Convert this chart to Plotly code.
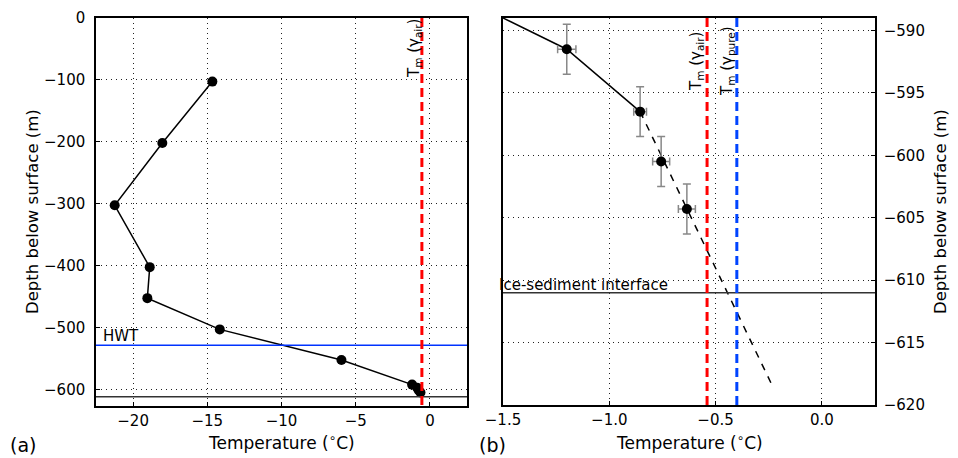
import plotly.graph_objects as go

# ---------------- data ----------------
# Panel (a): temperature profile (elevation = -depth, m)
temp_a = [-14.66, -18.03, -21.24, -18.88, -19.04, -14.16, -5.96, -1.20, -0.855, -0.756, -0.635]
elev_a = [-102.6, -201.8, -302.2, -402.0, -452.0, -502.4, -551.8, -591.5, -596.5, -600.5, -604.3]

# Panel (b): deep measurements with uncertainties
temp_b = [-5.96, -1.20, -0.855, -0.756, -0.635]
elev_b = [-551.8, -591.5, -596.5, -600.5, -604.3]
temp_err_b = [0.0, 0.043, 0.03, 0.04, 0.04]
elev_err_b = [0.0, 2.0, 2.0, 2.0, 2.0]

# Linear extrapolation (dashed) endpoints
fit_temp = [-0.855, -0.229]
fit_elev = [-596.5, -618.6]

# Reference levels / melting points
tm_air = -0.54
tm_pure = -0.40
hwt_elev = -528.0
interface_elev = -611.0

xticks_a = [-20, -15, -10, -5, 0]
yticks_a = [0, -100, -200, -300, -400, -500, -600]
xticks_b = [-1.5, -1.0, -0.5, 0.0]
yticks_b = [-590, -595, -600, -605, -610, -615, -620]

FONT = "DejaVu Sans"
W, H = 958, 458
TM_DASH = "9px,5px"

fig = go.Figure()

# ---------- panel (a) ----------
fig.add_trace(go.Scatter(x=temp_a, y=elev_a, mode="lines+markers",
                         line=dict(color="black", width=1.5),
                         marker=dict(color="black", size=10),
                         xaxis="x", yaxis="y", showlegend=False))
fig.add_trace(go.Scatter(x=[-22.5, 2.5], y=[hwt_elev, hwt_elev], mode="lines",
                         line=dict(color="#0033ff", width=1.5),
                         xaxis="x", yaxis="y", showlegend=False))
fig.add_trace(go.Scatter(x=[-22.5, 2.5], y=[interface_elev, interface_elev], mode="lines",
                         line=dict(color="#333333", width=1.5),
                         xaxis="x", yaxis="y", showlegend=False))
fig.add_trace(go.Scatter(x=[tm_air, tm_air], y=[0, -626], mode="lines",
                         line=dict(color="#ff0000", width=3, dash=TM_DASH),
                         xaxis="x", yaxis="y", showlegend=False))

# ---------- panel (b) ----------
fig.add_trace(go.Scatter(x=fit_temp, y=fit_elev, mode="lines",
                         line=dict(color="black", width=1.5, dash="7px,7px"),
                         xaxis="x2", yaxis="y2", showlegend=False))
fig.add_trace(go.Scatter(x=temp_b[:3], y=elev_b[:3], mode="lines",
                         line=dict(color="black", width=1.5),
                         xaxis="x2", yaxis="y2", showlegend=False))
fig.add_trace(go.Scatter(x=temp_b[1:], y=elev_b[1:], mode="markers",
                         marker=dict(color="black", size=10),
                         error_x=dict(type="data", array=temp_err_b[1:], color="#888888",
                                      thickness=1.5, width=4),
                         error_y=dict(type="data", array=elev_err_b[1:], color="#888888",
                                      thickness=1.5, width=4),
                         xaxis="x2", yaxis="y2", showlegend=False))
fig.add_trace(go.Scatter(x=[-1.5, 0.25], y=[interface_elev, interface_elev], mode="lines",
                         line=dict(color="#333333", width=1.5),
                         xaxis="x2", yaxis="y2", showlegend=False))
fig.add_trace(go.Scatter(x=[tm_air, tm_air], y=[-589, -620], mode="lines",
                         line=dict(color="#ff0000", width=3, dash=TM_DASH),
                         xaxis="x2", yaxis="y2", showlegend=False))
fig.add_trace(go.Scatter(x=[tm_pure, tm_pure], y=[-589, -620], mode="lines",
                         line=dict(color="#0044ff", width=3, dash=TM_DASH),
                         xaxis="x2", yaxis="y2", showlegend=False))

axis_common = dict(showline=True, linecolor="black", linewidth=1.5, mirror=True,
                   ticks="inside", ticklen=4, tickcolor="black", automargin=False,
                   showgrid=True, gridcolor="#222222", gridwidth=1, griddash="1px,4px",
                   zeroline=False, tickfont=dict(family=FONT, size=15, color="black"))

def px_x(a, b):
    return [a / W, b / W]

def px_y(top, bottom):
    return [1 - bottom / H, 1 - top / H]

fig.update_layout(
    width=W, height=H, margin=dict(l=0, r=0, t=0, b=0, autoexpand=False),
    paper_bgcolor="white", plot_bgcolor="white",
    font=dict(family=FONT, color="black"),
    xaxis=dict(domain=px_x(96, 467), range=[-22.5, 2.5], tickvals=xticks_a,
               anchor="y", **axis_common),
    yaxis=dict(domain=px_y(18, 406), range=[-626, 0], tickvals=yticks_a,
               anchor="x", ticklabelstandoff=6, **axis_common),
    xaxis2=dict(domain=px_x(503, 875), range=[-1.5, 0.25], tickvals=xticks_b,
                tickformat=".1f", anchor="y2", **axis_common),
    yaxis2=dict(domain=px_y(18, 405), range=[-620, -589], tickvals=yticks_b,
                anchor="x2", side="right", ticklabelstandoff=4, **axis_common),
)

ann = []
def add_text(text, x, y, size, angle=0, xanchor="center", yanchor="middle"):
    ann.append(dict(text=text, x=x / W, y=1 - y / H, xref="paper", yref="paper",
                    showarrow=False, textangle=angle, xanchor=xanchor, yanchor=yanchor,
                    font=dict(family=FONT, size=size, color="black")))

add_text("Temperature (<sup>∘</sup>C)", 281, 442, 17)
add_text("Temperature (<sup>∘</sup>C)", 689, 442, 17)
add_text("Depth below surface (m)", 32, 212, 16.5, angle=-90)
add_text("Depth below surface (m)", 940, 212, 16.5, angle=-90)
add_text("(a)", 23, 445, 19)
add_text("(b)", 492, 445, 19)
add_text("HWT", 101, 336, 15, xanchor="left")
add_text("Ice-sediment interface", 497, 285, 15, xanchor="left")
add_text("T<sub>m</sub> (γ<sub>air</sub>)", 415, 49, 15, angle=-90)
add_text("T<sub>m</sub> (γ<sub>air</sub>)", 697, 62, 15, angle=-90)
add_text("T<sub>m</sub> (γ<sub>pure</sub>)", 727, 61, 15, angle=-90)
fig.update_layout(annotations=ann)

fig.write_html("out.html", config={"displayModeBar": False},
               post_script="document.body.style.margin='0';document.body.style.overflow='hidden';")
